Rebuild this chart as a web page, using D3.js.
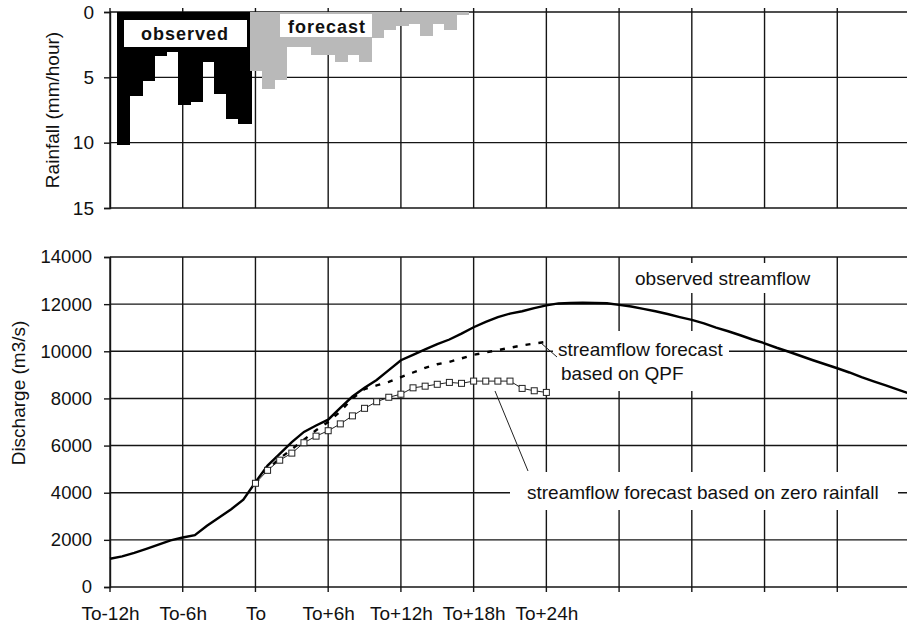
<!DOCTYPE html>
<html>
<head>
<meta charset="utf-8">
<script src="https://cdn.jsdelivr.net/npm/d3@7"></script>
<style>
  body { margin: 0; background: #fff; }
  svg text { font-family: "Liberation Sans", Arial, sans-serif; fill: #111; }
</style>
</head>
<body>
<div id="chart"></div>
<script>
// rainfall, mm/hour, one bar per hour
const obsRainHours = [-11, -10, -9, -8, -7, -6, -5, -4, -3, -2, -1]
const obsRain = [10.15, 6.4, 5.3, 3.35, 3.07, 7.1, 6.9, 3.8, 6.3, 8.2, 8.6]
const fcstRainHours = [0, 1, 2, 3, 4, 5, 6, 7, 8, 9, 10, 11, 12, 13, 14, 15, 16, 17]
const fcstRain = [4.5, 5.9, 5.2, 2.7, 2.7, 3.3, 3.3, 3.8, 3.3, 3.8, 2.0, 1.4, 1.1, 0.9, 1.8, 0.9, 1.4, 0.25]

// discharge, m3/s
const obsFlowHours = d3.range(-12, 55)
const obsFlow = [1200, 1300, 1450, 1620, 1800, 1980, 2100, 2200, 2600, 2950, 3300, 3700,
  4450, 5150, 5650, 6150, 6580, 6850, 7100, 7600, 8080, 8450, 8780, 9200,
  9620, 9850, 10080, 10300, 10500, 10750, 11020, 11250, 11450, 11600, 11700, 11830,
  11950, 12030, 12050, 12060, 12050, 12040, 11970, 11900, 11800, 11700, 11580, 11450,
  11330, 11180, 11000, 10850, 10680, 10500, 10340, 10150, 9980, 9800, 9620, 9450,
  9280, 9100, 8900, 8720, 8550, 8370, 8200]
const fcstHours = d3.range(0, 25)
const qpfFlow = [4400, 5000, 5450, 5850, 6250, 6650, 7000, 7450, 8000, 8400, 8550, 8700,
  8900, 9100, 9300, 9450, 9550, 9700, 9850, 9950, 10050, 10150, 10250, 10330, 10400]
const zeroFlow = [4400, 4950, 5380, 5680, 6120, 6400, 6630, 6920, 7260, 7580, 7860, 8050,
  8180, 8450, 8520, 8600, 8680, 8640, 8735, 8735, 8735, 8735, 8425, 8325, 8255]

const gridHours = d3.range(-12, 55, 6)
const xTickLabels = ["To-12h", "To-6h", "To", "To+6h", "To+12h", "To+18h", "To+24h"]
const rainTicks = [0, 5, 10, 15]
const flowTicks = [0, 2000, 4000, 6000, 8000, 10000, 12000, 14000]

const W = 907, H = 627
const svg = d3.select("#chart").append("svg").attr("width", W).attr("height", H)

const x = d3.scaleLinear().domain([-12, 54]).range([110, 910])
const yRain = d3.scaleLinear().domain([0, 15]).range([12, 208])
const yFlow = d3.scaleLinear().domain([0, 14000]).range([587, 257])

const gridStroke = "#151515"

drawRain()
drawFlow()

function drawRain() {
    const g = svg.append("g")

    // grid first, the bars cover it
    g.selectAll("line.h").data(rainTicks).enter().append("line")
        .attr("x1", x(-12)).attr("x2", x(54)).attr("y1", d => yRain(d)).attr("y2", d => yRain(d))
        .attr("stroke", gridStroke).attr("stroke-width", 1.4)
    g.selectAll("line.v").data(gridHours).enter().append("line")
        .attr("x1", d => x(d)).attr("x2", d => x(d)).attr("y1", yRain(0) - 4).attr("y2", yRain(15))
        .attr("stroke", gridStroke).attr("stroke-width", 1.4)

    // bars hang down from the top
    const bw = x(1) - x(0)
    g.selectAll("rect.obs").data(obsRainHours).enter().append("rect").attr("class", "obs")
        .attr("x", h => x(h - 0.4)).attr("width", bw + 1)
        .attr("y", yRain(0)).attr("height", (h, i) => yRain(obsRain[i]) - yRain(0))
        .attr("fill", "#000").attr("shape-rendering", "crispEdges")
    g.selectAll("rect.fcst").data(fcstRainHours).enter().append("rect").attr("class", "fcst")
        .attr("x", h => x(h - 0.45)).attr("width", bw + 1)
        .attr("y", yRain(0)).attr("height", (h, i) => yRain(fcstRain[i]) - yRain(0))
        .attr("fill", "#b9b9b9").attr("shape-rendering", "crispEdges")

    const ax = g.append("g").attr("transform", `translate(${x(-12)},0)`)
        .call(d3.axisLeft(yRain).tickValues(rainTicks).tickSize(6).tickPadding(10))
    ax.selectAll("path,line").attr("stroke", gridStroke).attr("stroke-width", 1.4)
    ax.selectAll("text").style("font-size", "19px").attr("fill", "#111")

    // labels with white boxes
    g.append("rect").attr("x", 124).attr("y", 20).attr("width", 123).attr("height", 27).attr("fill", "#fff")
    g.append("text").attr("x", 185).attr("y", 40).attr("text-anchor", "middle")
        .style("font-size", "18px").style("font-weight", "bold").style("letter-spacing", "1px").text("observed")
    g.append("rect").attr("x", 280).attr("y", 14).attr("width", 92).attr("height", 23).attr("fill", "#fff")
    g.append("text").attr("x", 327).attr("y", 33).attr("text-anchor", "middle")
        .style("font-size", "18px").style("font-weight", "bold").style("letter-spacing", "1px").text("forecast")

    g.append("text").attr("transform", "translate(52,110) rotate(-90)").attr("text-anchor", "middle")
        .attr("dominant-baseline", "central").style("font-size", "19px").text("Rainfall (mm/hour)")
}

function drawFlow() {
    const g = svg.append("g")

    g.selectAll("line.h").data(flowTicks).enter().append("line")
        .attr("x1", x(-12)).attr("x2", x(54)).attr("y1", d => yFlow(d)).attr("y2", d => yFlow(d))
        .attr("stroke", gridStroke).attr("stroke-width", 1.4)
    g.selectAll("line.v").data(gridHours).enter().append("line")
        .attr("x1", d => x(d)).attr("x2", d => x(d)).attr("y1", yFlow(14000)).attr("y2", yFlow(0) + 5)
        .attr("stroke", gridStroke).attr("stroke-width", 1.4)

    const ay = g.append("g").attr("transform", `translate(${x(-12)},0)`)
        .call(d3.axisLeft(yFlow).tickValues(flowTicks).tickSize(6).tickPadding(12).tickFormat(d3.format("d")))
    ay.selectAll("path,line").attr("stroke", gridStroke).attr("stroke-width", 1.4)
    ay.selectAll("text").style("font-size", "18.5px").attr("fill", "#111")

    const axb = g.append("g").attr("transform", `translate(0,${yFlow(0)})`)
        .call(d3.axisBottom(x).tickValues(gridHours).tickSize(0).tickPadding(20)
            .tickFormat((d, i) => xTickLabels[i] || ""))
    axb.select(".domain").remove()
    axb.selectAll("text").style("font-size", "19px").attr("fill", "#111")

    // white boxes behind annotations, then annotations
    const boxes = [[628, 263, 194, 30], [553, 331, 176, 60], [510, 472, 388, 38]]
    g.selectAll("rect.box").data(boxes).enter().append("rect")
        .attr("x", d => d[0]).attr("y", d => d[1]).attr("width", d => d[2]).attr("height", d => d[3])
        .attr("fill", "#fff")

    const line = d3.line().x(d => x(d[0])).y(d => yFlow(d[1]))
    g.append("path").datum(obsFlowHours.map((h, i) => [h, obsFlow[i]])).attr("d", line)
        .attr("fill", "none").attr("stroke", "#000").attr("stroke-width", 2.4)
    g.append("path").datum(fcstHours.map((h, i) => [h, qpfFlow[i]])).attr("d", line)
        .attr("fill", "none").attr("stroke", "#000").attr("stroke-width", 2.4).attr("stroke-dasharray", "5,8")
    const zero = fcstHours.map((h, i) => [h, zeroFlow[i]])
    g.append("path").datum(zero).attr("d", line)
        .attr("fill", "none").attr("stroke", "#222").attr("stroke-width", 1)
    g.selectAll("rect.mk").data(zero).enter().append("rect").attr("class", "mk")
        .attr("x", d => x(d[0]) - 3).attr("y", d => yFlow(d[1]) - 3).attr("width", 6).attr("height", 6)
        .attr("fill", "#fff").attr("stroke", "#222").attr("stroke-width", 1)

    // leader lines
    g.append("line").attr("x1", 541).attr("y1", 343).attr("x2", 557).attr("y2", 357)
        .attr("stroke", "#222").attr("stroke-width", 1)
    g.append("line").attr("x1", 495).attr("y1", 391).attr("x2", 528).attr("y2", 471)
        .attr("stroke", "#222").attr("stroke-width", 1)

    const t = (tx, ty, s) => g.append("text").attr("x", tx).attr("y", ty).style("font-size", "19px").text(s)
    t(635, 285, "observed streamflow")
    t(558, 356, "streamflow forecast")
    t(561, 380, "based on QPF")
    t(527, 499, "streamflow forecast based on zero rainfall")

    g.append("text").attr("transform", "translate(18,393) rotate(-90)").attr("text-anchor", "middle")
        .attr("dominant-baseline", "central").style("font-size", "19px").text("Discharge (m3/s)")
}
</script>
</body>
</html>
